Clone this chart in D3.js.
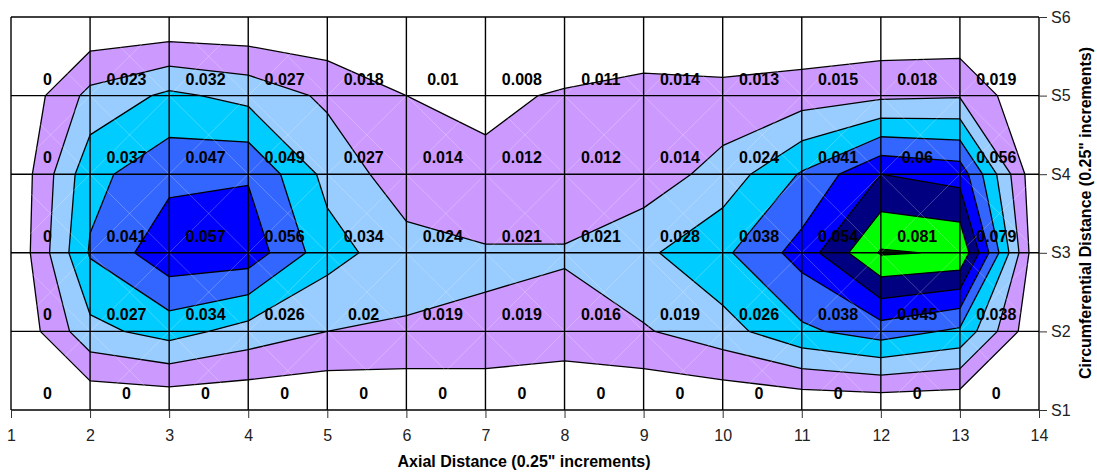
<!DOCTYPE html>
<html>
<head>
<meta charset="utf-8">
<script src="https://cdn.jsdelivr.net/npm/d3@7"></script>
<style>
  body { margin: 0; background: #fff; }
  svg { display: block; font-family: "Liberation Sans", Arial, sans-serif; }
  .axis text { font-size: 16px; fill: #222; }
  .axis line { stroke: #333; }
  .label { font-size: 16px; font-weight: bold; }
  .title { font-size: 16px; font-weight: bold; }
</style>
</head>
<body>
<svg width="1097" height="475"></svg>
<script>
// axial positions (columns) and circumferential rows
var axial = [1, 2, 3, 4, 5, 6, 7, 8, 9, 10, 11, 12, 13, 14];
var rows = [6, 5, 4, 3, 2, 1];   // S6 at top .. S1 at bottom

// readings per row (column 14 and row S6 are the zero edge)
var s6 = [0, 0, 0, 0, 0, 0, 0, 0, 0, 0, 0, 0, 0, 0];
var s5 = [0, 0.023, 0.032, 0.027, 0.018, 0.01, 0.008, 0.011, 0.014, 0.013, 0.015, 0.018, 0.019, 0];
var s4 = [0, 0.037, 0.047, 0.049, 0.027, 0.014, 0.012, 0.012, 0.014, 0.024, 0.041, 0.06, 0.056, 0];
var s3 = [0, 0.041, 0.057, 0.056, 0.034, 0.024, 0.021, 0.021, 0.028, 0.038, 0.054, 0.081, 0.079, 0];
var s2 = [0, 0.027, 0.034, 0.026, 0.02, 0.019, 0.019, 0.016, 0.019, 0.026, 0.038, 0.045, 0.038, 0];
var s1 = [0, 0, 0, 0, 0, 0, 0, 0, 0, 0, 0, 0, 0, 0];

var levels = [0.01, 0.02, 0.03, 0.04, 0.05, 0.06, 0.07, 0.08];
var bandColors = ["#CC99FF", "#99CCFF", "#00CCFF", "#3366FF", "#0000FF", "#000080", "#00FF00", "#002200"];

var grid = [s6, s5, s4, s3, s2, s1];
var values = [].concat(s6, s5, s4, s3, s2, s1);

var svg = d3.select("svg");

var x = d3.scaleLinear().domain([1, 14]).range([11, 1039]);
var y = d3.scaleLinear().domain([1, 6]).range([410, 17]);

// grid coords from d3.contours: cell i has centre at i+0.5
var proj = d3.geoTransform({
    point: function(cx, cy) {
        this.stream.point(x(cx + 0.5), y(6.5 - cy));
    }
});
var path = d3.geoPath(proj);

var contours = d3.contours()
    .size([axial.length, rows.length])
    .thresholds(levels)(values);

svg.append("g")
    .selectAll("path")
    .data(contours)
    .enter()
    .append("path")
    .attr("d", path)
    .attr("fill", function(d, i) { return bandColors[i]; })
    .attr("stroke", "#000")
    .attr("stroke-width", 1.3)
    .attr("stroke-linejoin", "round");

// faint cell diagonals
var diag = svg.append("g")
    .attr("stroke", "#fff")
    .attr("stroke-opacity", 0.35)
    .attr("stroke-width", 0.7);
for (var i = 0; i < axial.length - 1; i++) {
    for (var j = 1; j < rows.length; j++) {
        diag.append("line")
            .attr("x1", x(axial[i])).attr("y1", y(j))
            .attr("x2", x(axial[i + 1])).attr("y2", y(j + 1));
        diag.append("line")
            .attr("x1", x(axial[i])).attr("y1", y(j + 1))
            .attr("x2", x(axial[i + 1])).attr("y2", y(j));
    }
}

// grid lines
var gl = svg.append("g").attr("stroke", "#000").attr("stroke-width", 1.4);
axial.forEach(function(a) {
    gl.append("line").attr("x1", x(a)).attr("x2", x(a)).attr("y1", y(1)).attr("y2", y(6));
});
rows.forEach(function(r) {
    gl.append("line").attr("x1", x(1)).attr("x2", x(14)).attr("y1", y(r)).attr("y2", y(r));
});

// data labels (rows S1..S5, columns 1..13)
var lab = svg.append("g").attr("class", "label").attr("text-anchor", "middle");
grid.forEach(function(row, k) {
    var s = rows[k];
    if (s === 6) return;
    row.slice(0, 13).forEach(function(v, i) {
        lab.append("text")
            .attr("x", x(axial[i] + 0.46))
            .attr("y", y(s) - 11)
            .text(v);
    });
});

// axes
svg.append("g")
    .attr("class", "axis")
    .attr("transform", "translate(0," + y(1) + ")")
    .call(d3.axisBottom(x).tickValues(axial).tickSize(8).tickSizeOuter(0).tickPadding(12).tickFormat(d3.format("d")))
    .call(function(g) { g.select(".domain").remove(); });

svg.append("g")
    .attr("class", "axis")
    .attr("transform", "translate(" + x(14) + ",0)")
    .call(d3.axisRight(y).tickValues(rows).tickSize(8).tickSizeOuter(0).tickPadding(4).tickFormat(function(d) { return "S" + d; }))
    .call(function(g) { g.select(".domain").remove(); });

svg.append("text")
    .attr("class", "title")
    .attr("text-anchor", "middle")
    .attr("x", 524)
    .attr("y", 467)
    .text("Axial Distance (0.25\" increments)");

svg.append("text")
    .attr("class", "title")
    .attr("text-anchor", "middle")
    .attr("transform", "translate(1091,213) rotate(-90)")
    .text("Circumferential Distance (0.25\" increments)");
</script>
</body>
</html>
